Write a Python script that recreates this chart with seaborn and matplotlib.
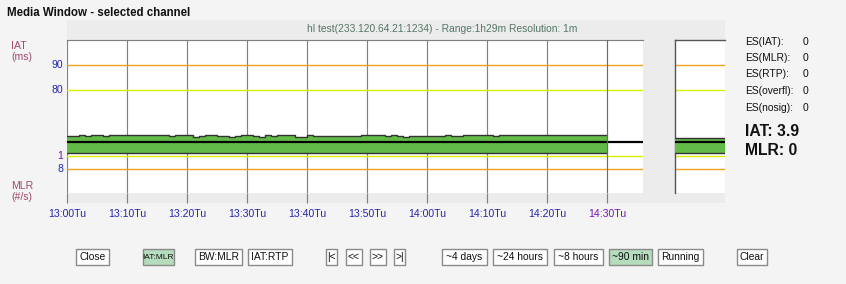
import matplotlib
matplotlib.use("Agg")
import matplotlib.pyplot as plt
from matplotlib.patches import Rectangle
import seaborn as sns
import numpy as np
import pandas as pd

# ---------------- data ----------------
W, H = 846, 284
tick_minutes = [0, 10, 20, 30, 40, 50, 60, 70, 80, 90]
tick_labels = ["13:00Tu", "13:10Tu", "13:20Tu", "13:30Tu", "13:40Tu",
               "13:50Tu", "14:00Tu", "14:10Tu", "14:20Tu", "14:30Tu"]

# per-minute IAT band (chart units), 13:00 .. 14:29
Hh, Mm, Ll, LL = 61.9, 61.7, 61.5, 61.2
iat_max = ([Ll, Ll, Hh, Mm, Hh, Hh, Mm] + [Hh] * 10 + [Ll, Hh, Hh, Hh, LL, Mm, Hh, Hh,
           Ll, Mm, LL, Mm, Hh, Hh, Mm, LL, Hh, Mm, Hh, Hh, Hh, LL, LL, Hh] + [Mm] * 8 +
           [Hh] * 4 + [Mm, Hh, Mm, LL] + [Mm] * 6 + [Hh, Mm, Mm] + [Hh] * 5 + [Mm] + [Hh] * 18)
iat_min = 54.7
iat_mean = 59.3
mean_end = 96.0          # mean line continues to the panel edge
running_max = 60.9       # small "running" panel

iat_lines = {"90": 90.0, "80": 80.0}
mlr_lines = {"1": 53.6, "8": 48.4}

es_labels = ["ES(IAT):", "ES(MLR):", "ES(RTP):", "ES(overfl):", "ES(nosig):"]
es_values = [0, 0, 0, 0, 0]
iat_now, mlr_now = "3.9", "0"

buttons = ["Close", "IAT:MLR", "BW:MLR", "IAT:RTP", "|<", "<<", ">>", ">|",
           "~4 days", "~24 hours", "~8 hours", "~90 min", "Running", "Clear"]
button_active = ["IAT:MLR", "~90 min"]

# ---------------- style ----------------
sns.set_theme(style="white")
plt.rcParams["font.family"] = ["Liberation Sans", "DejaVu Sans"]

BG = "#f4f4f4"
PANEL_BG = "#ececec"
GREEN = "#63bb47"
EDGE = "#333333"
YELLOW = "#d8ee00"
ORANGE = "#f0a01c"
GRID = "#808080"
BLUE = "#2525b0"
PURPLE = "#7a14b4"
MAROON = "#a04a70"
LW1 = 0.85
LWC = 1.0
LW2 = 1.6

fig = plt.figure(figsize=(W / 100, H / 100), dpi=100, facecolor=BG)


def fx(x):
    return x / W


def fy(y):
    return 1 - y / H


# chart background region
fig.patches.append(Rectangle((fx(67), fy(203)), fx(725) - fx(67), fy(20) - fy(203),
                             transform=fig.transFigure, facecolor=PANEL_BG,
                             edgecolor="none", zorder=-5))

ylo, yhi = 38.8, 100.0
ax = fig.add_axes([fx(67), fy(193), fx(643) - fx(67), fy(40) - fy(193)])
ax.set_zorder(1)
ax.set_facecolor("white")
ax.set_xlim(0, 96)
ax.set_ylim(ylo, yhi)

x_edges = np.arange(len(iat_max) + 1)
top = np.array(iat_max + [iat_max[-1]])
ax.fill_between(x_edges, iat_min, top, step="post", color=GREEN, lw=0, zorder=3)
df_top = pd.DataFrame({"x": x_edges, "y": top})
sns.lineplot(data=df_top, x="x", y="y", ax=ax, drawstyle="steps-post",
             color=EDGE, lw=1.0, zorder=4)
df_bot = pd.DataFrame({"x": [0, len(iat_max)], "y": [iat_min, iat_min]})
sns.lineplot(data=df_bot, x="x", y="y", ax=ax, color=EDGE, lw=1.0, zorder=4)
sns.lineplot(x=[len(iat_max), len(iat_max)], y=[iat_min, iat_max[-1]], ax=ax,
             color=EDGE, lw=1.0, zorder=4)
df_mean = pd.DataFrame({"x": [0, mean_end], "y": [iat_mean, iat_mean]})
sns.lineplot(data=df_mean, x="x", y="y", ax=ax, color="black", lw=LW2, zorder=5)

for v in iat_lines.values():
    ax.axhline(v, color=YELLOW if v == 80.0 else ORANGE, lw=LWC, zorder=2)
for k, v in mlr_lines.items():
    ax.axhline(v, color=YELLOW if k == "1" else ORANGE, lw=LWC, zorder=2)

for m in tick_minutes:
    c = "#4f7f4f" if m == 90 else GRID
    ax.axvline(m, color=c, lw=LW1, zorder=6 if m == 90 else 1)

ax.set_xticks(tick_minutes)
ax.set_xticklabels(tick_labels, fontsize=7.6)
ax.set_yticks([])
ax.tick_params(axis="x", bottom=True, length=7.3, width=LW1, color=GRID,
               direction="out", pad=4.0)
for lbl in ax.get_xticklabels():
    lbl.set_color(PURPLE if lbl.get_text() == "14:30Tu" else BLUE)
ticklines = ax.get_xticklines()
ticklines[-2].set_color("#4f7f4f")
ax.set_xlabel("")
ax.set_ylabel("")
for s in ["right", "bottom", "left"]:
    ax.spines[s].set_visible(False)
ax.spines["top"].set_color(GRID)
ax.spines["top"].set_linewidth(LW1)

# running panel
ax2 = fig.add_axes([fx(675), fy(193), fx(725) - fx(675), fy(40) - fy(193)])
ax2.set_zorder(1)
ax2.set_facecolor("white")
ax2.set_xlim(0, 1)
ax2.set_ylim(ylo, yhi)
ax2.fill_between([0, 1], iat_min, running_max, color=GREEN, lw=0, zorder=3)
sns.lineplot(x=[0, 1], y=[running_max, running_max], ax=ax2, color=EDGE, lw=1.0, zorder=4)
sns.lineplot(x=[0, 1], y=[iat_min, iat_min], ax=ax2, color=EDGE, lw=1.0, zorder=4)
sns.lineplot(x=[0, 1], y=[iat_mean, iat_mean], ax=ax2, color="black", lw=LW2, zorder=5)
for v in iat_lines.values():
    ax2.axhline(v, color=YELLOW if v == 80.0 else ORANGE, lw=LWC, zorder=2)
for k, v in mlr_lines.items():
    ax2.axhline(v, color=YELLOW if k == "1" else ORANGE, lw=LWC, zorder=2)
ax2.set_xticks([])
ax2.set_yticks([])
for s in ["right", "bottom"]:
    ax2.spines[s].set_visible(False)
for s in ["top", "left"]:
    ax2.spines[s].set_color("#555555")
    ax2.spines[s].set_linewidth(1.0)

# ---------------- texts ----------------
fig.text(fx(7), fy(13), "Media Window - selected channel", fontsize=8.3,
         fontweight="bold", color="#111111", va="center", ha="left")
fig.text(fx(307), fy(29.5), "hl test(233.120.64.21:1234) - Range:1h29m Resolution: 1m",
         fontsize=7.4, color="#557766", va="center", ha="left")

fig.text(fx(11), fy(46), "IAT", fontsize=7.6, color=MAROON, va="center", ha="left")
fig.text(fx(11), fy(57), "(ms)", fontsize=7.6, color=MAROON, va="center", ha="left")
fig.text(fx(11), fy(186), "MLR", fontsize=7.6, color=MAROON, va="center", ha="left")
fig.text(fx(11), fy(197), "(#/s)", fontsize=7.6, color=MAROON, va="center", ha="left")

for k, v in iat_lines.items():
    ax.text(-0.6, v, k, transform=ax.transData, fontsize=7.6, color=BLUE,
            ha="right", va="center", clip_on=False)
for k, v in mlr_lines.items():
    ax.text(-0.6, v, k, transform=ax.transData, fontsize=7.6,
            color=PURPLE if k == "1" else BLUE, ha="right", va="center", clip_on=False)

row_y = [41.7, 58.3, 74.0, 91.0, 108.3]
for lab, val, yy in zip(es_labels, es_values, row_y):
    fig.text(fx(745), fy(yy), lab, fontsize=7.4, color="#111111", va="center", ha="left")
    fig.text(fx(803), fy(yy), str(val), fontsize=7.4, color="#111111", va="center", ha="left")
fig.text(fx(745), fy(131.5), f"IAT: {iat_now}", fontsize=11.3, fontweight="bold",
         color="#111111", va="center", ha="left")
fig.text(fx(745), fy(150.5), f"MLR: {mlr_now}", fontsize=11.3, fontweight="bold",
         color="#111111", va="center", ha="left")

# buttons
btn_x = [(76, 108.5), (142.7, 174), (195, 241.7), (248.3, 291.7), (326, 336.7),
         (346, 361.7), (370, 385.7), (394, 405), (442.3, 486.7), (493.3, 547.3),
         (554, 602.7), (609.3, 651.7), (658.3, 702.7), (737.3, 766.7)]
for name, (x0, x1) in zip(buttons, btn_x):
    fc = "#b5dcbc" if name in button_active else "white"
    fig.patches.append(Rectangle((fx(x0), fy(265)), fx(x1) - fx(x0), fy(249) - fy(265),
                                 transform=fig.transFigure, facecolor=fc,
                                 edgecolor="#8a8a8a", lw=1.0, zorder=2))
    fs = 6.0 if name == "IAT:MLR" else 7.4
    fig.text(fx((x0 + x1) / 2), fy(257.2), name, fontsize=fs, color="#111111",
             ha="center", va="center", zorder=3)

fig.savefig("out.png", dpi=100, facecolor=BG)
